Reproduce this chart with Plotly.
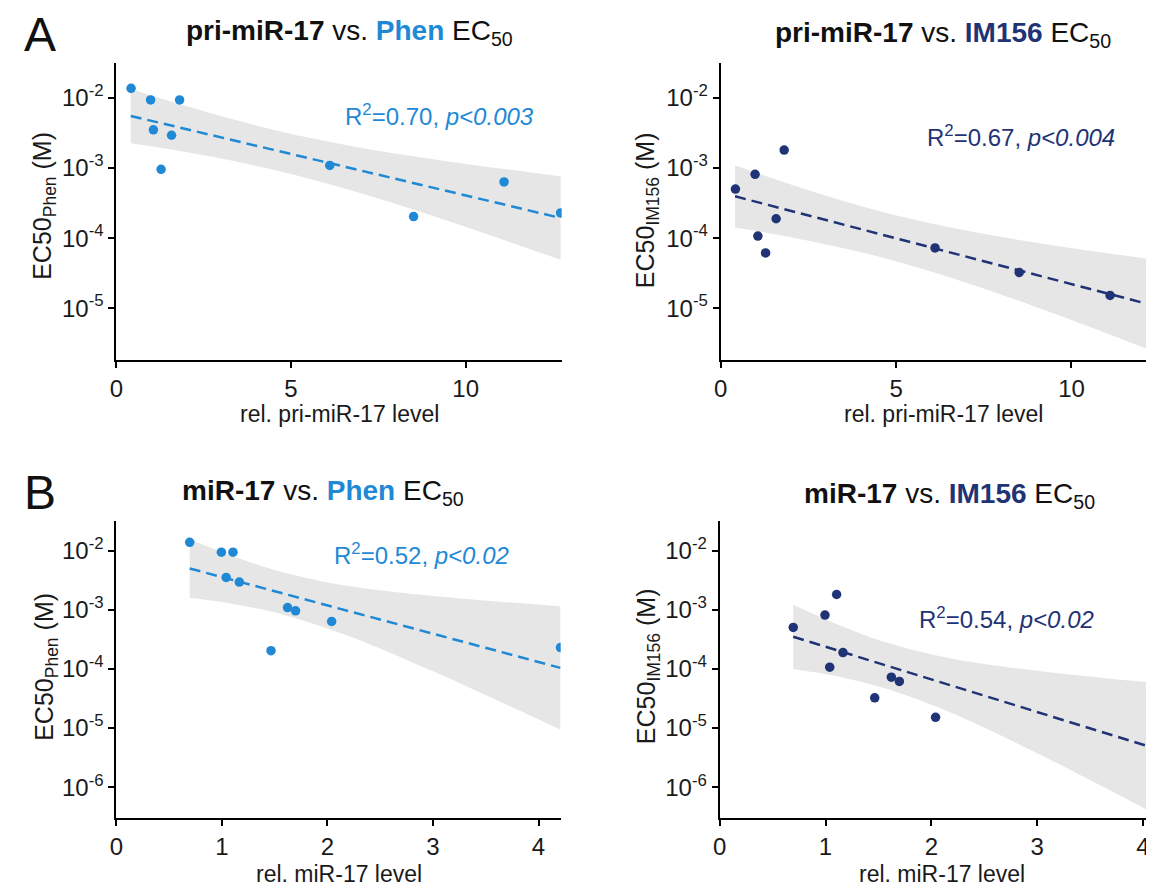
"""Four-panel log-linear correlation plot: miR-17 levels vs EC50 of Phen and IM156."""

import plotly.graph_objects as go

PHEN_BLUE = "#1f89d5"
IM_NAVY = "#1f3375"
BAND_GREY = "#e6e6e6"
FONT = "Liberation Sans, Arial, sans-serif"

# ten cell lines: relative levels and EC50 values (M)
pri_level = [0.42, 0.98, 1.81, 1.06, 1.58, 1.28, 6.11, 8.51, 11.10, 12.72]
mir_level = [0.695, 0.995, 1.105, 1.04, 1.165, 1.698, 1.622, 1.465, 2.04, 4.208]
ec50_phen = [1.377e-2, 9.38e-3, 9.38e-3, 3.52e-3, 2.94e-3, 9.59e-4, 1.09e-3, 2.03e-4, 6.34e-4, 2.29e-4]
ec50_im156 = [5.02e-4, 8.13e-4, 1.81e-3, 1.07e-4, 1.89e-4, 6.14e-5, 7.24e-5, 3.24e-5, 1.52e-5, 9.33e-6]

# regression lines (ends) and 95% bands
pri_fit_x = [0.41, 12.72]
pri_phen_fit = [5.55e-3, 1.94e-4]
pri_im_fit = [3.95e-4, 9.73e-6]
pri_band_x = [0.41, 2.0, 4.55, 7.0, 9.5, 12.72]
pri_phen_hi = [1.36e-2, 7.67e-3, 3.46e-3, 1.95e-3, 1.245e-3, 7.66e-4]
pri_phen_lo = [2.26e-3, 1.69e-3, 9.31e-4, 4.37e-4, 1.75e-4, 4.91e-5]
pri_im_hi = [1.10e-3, 5.81e-4, 2.40e-4, 1.28e-4, 7.87e-5, 4.67e-5]
pri_im_lo = [1.42e-4, 1.03e-4, 5.37e-5, 2.31e-5, 8.36e-6, 2.03e-6]

mir_fit_x = [0.695, 4.208]
mir_phen_fit = [4.99e-3, 1.04e-4]
mir_im_fit = [3.49e-4, 4.03e-6]
mir_band_x = [0.695, 0.9, 1.2, 1.6, 2.2, 3.0, 3.6, 4.208]
mir_phen_hi = [1.56e-2, 1.11e-2, 7.00e-3, 4.18e-3, 2.51e-3, 1.70e-3, 1.38e-3, 1.15e-3]
mir_phen_lo = [1.60e-3, 1.43e-3, 1.17e-3, 8.11e-4, 3.61e-4, 9.12e-5, 2.99e-5, 9.40e-6]
mir_im_hi = [1.21e-3, 8.24e-4, 4.88e-4, 2.72e-4, 1.49e-4, 9.29e-5, 7.11e-5, 5.61e-5]
mir_im_lo = [1.00e-4, 8.75e-5, 6.90e-5, 4.49e-5, 1.78e-5, 3.75e-6, 1.07e-6, 2.89e-7]

# axis ticks
pri_ticks = [0, 5, 10]
mir_ticks = [0, 1, 2, 3, 4]
ec50_ticks_a = [1e-2, 1e-3, 1e-4, 1e-5]
ec50_labels_a = ["10<sup>-2</sup>", "10<sup>-3</sup>", "10<sup>-4</sup>", "10<sup>-5</sup>"]
ec50_ticks_b = [1e-2, 1e-3, 1e-4, 1e-5, 1e-6]
ec50_labels_b = ec50_labels_a + ["10<sup>-6</sup>"]

W, H = 1154, 888


def px_x(v):
    return v / W


def px_y(v):
    return 1 - v / H


panels = [
    dict(ax="", x=pri_level, y=ec50_phen, fx=pri_fit_x, fy=pri_phen_fit, bx=pri_band_x,
         hi=pri_phen_hi, lo=pri_phen_lo, col=PHEN_BLUE, dom=(102, 550), vdom=(55, 352),
         xr=[0, 12.75], yr=[-5.74, -1.5], yt=ec50_ticks_a, yl=ec50_labels_a, xt=pri_ticks,
         drug="Phen", gene="pri-miR-17", xtitle="rel. pri-miR-17 level",
         stat="R<sup>2</sup>=0.70, <i>p&lt;0.003</i>", sx=427, sy=107,
         tx=337, ty=25, yx=29, yy=198, xtx=326, xty=406),
    dict(ax="2", x=pri_level, y=ec50_im156, fx=pri_fit_x, fy=pri_im_fit, bx=pri_band_x,
         hi=pri_im_hi, lo=pri_im_lo, col=IM_NAVY, dom=(710, 1154), vdom=(55, 352),
         xr=[0, 12.58], yr=[-5.74, -1.5], yt=ec50_ticks_a, yl=ec50_labels_a, xt=pri_ticks,
         drug="IM156", gene="pri-miR-17", xtitle="rel. pri-miR-17 level",
         stat="R<sup>2</sup>=0.67, <i>p&lt;0.004</i>", sx=1012, sy=128,
         tx=934, ty=27, yx=636, yy=202, xtx=934, xty=406),
    dict(ax="3", x=mir_level, y=ec50_phen, fx=mir_fit_x, fy=mir_phen_fit, bx=mir_band_x,
         hi=mir_phen_hi, lo=mir_phen_lo, col=PHEN_BLUE, dom=(102, 549), vdom=(513, 810),
         xr=[0, 4.21], yr=[-6.52, -1.5], yt=ec50_ticks_b, yl=ec50_labels_b, xt=mir_ticks,
         drug="Phen", gene="miR-17", xtitle="rel. miR-17 level",
         stat="R<sup>2</sup>=0.52, <i>p&lt;0.02</i>", sx=409, sy=546,
         tx=310, ty=484, yx=31, yy=659, xtx=326, xty=866),
    dict(ax="4", x=mir_level, y=ec50_im156, fx=mir_fit_x, fy=mir_im_fit, bx=mir_band_x,
         hi=mir_im_hi, lo=mir_im_lo, col=IM_NAVY, dom=(709, 1154), vdom=(513, 810),
         xr=[0, 4.18], yr=[-6.52, -1.5], yt=ec50_ticks_b, yl=ec50_labels_b, xt=mir_ticks,
         drug="IM156", gene="miR-17", xtitle="rel. miR-17 level",
         stat="R<sup>2</sup>=0.54, <i>p&lt;0.02</i>", sx=998, sy=610,
         tx=940, ty=487, yx=637, yy=658, xtx=933, xty=866),
]

fig = go.Figure()
annotations = []
layout = {}


def note(text, x, y, size, color="#111", angle=0):
    annotations.append(dict(
        text=text, x=px_x(x), y=px_y(y), xref="paper", yref="paper",
        xanchor="center", yanchor="middle", showarrow=False, textangle=angle,
        font=dict(size=size, color=color),
    ))


for p in panels:
    xa, ya = "x" + p["ax"], "y" + p["ax"]
    # confidence band
    fig.add_trace(go.Scatter(x=p["bx"], y=p["lo"], mode="lines", line=dict(width=0, shape="spline"),
                             hoverinfo="skip", showlegend=False, xaxis=xa, yaxis=ya))
    fig.add_trace(go.Scatter(x=p["bx"], y=p["hi"], mode="lines", line=dict(width=0, shape="spline"),
                             fill="tonexty", fillcolor=BAND_GREY, hoverinfo="skip",
                             showlegend=False, xaxis=xa, yaxis=ya))
    # regression line
    fig.add_trace(go.Scatter(x=p["fx"], y=p["fy"], mode="lines",
                             line=dict(color=p["col"], width=2.5, dash="11px,6px"),
                             showlegend=False, xaxis=xa, yaxis=ya))
    # cell lines
    fig.add_trace(go.Scatter(x=p["x"], y=p["y"], mode="markers",
                             marker=dict(color=p["col"], size=9.5),
                             showlegend=False, xaxis=xa, yaxis=ya))

    x0, x1 = p["dom"]
    top, bot = p["vdom"]
    layout["xaxis" + p["ax"]] = dict(
        domain=[px_x(x0), px_x(x1)], range=p["xr"], anchor=ya,
        tickvals=p["xt"], showline=True, linecolor="black", linewidth=2,
        ticks="outside", ticklen=6, tickwidth=2, tickcolor="black",
        showgrid=False, zeroline=False, tickfont=dict(size=24, color="#1a1a1a"),
    )
    layout["yaxis" + p["ax"]] = dict(
        domain=[px_y(bot), px_y(top)], type="log", range=p["yr"], anchor=xa,
        tickvals=p["yt"], ticktext=p["yl"],
        showline=True, linecolor="black", linewidth=2,
        ticks="outside", ticklen=6, tickwidth=2, tickcolor="black",
        showgrid=False, zeroline=False, tickfont=dict(size=24, color="#1a1a1a"),
    )
    note(p["xtitle"], p["xtx"], p["xty"], 23, "#1a1a1a")
    note("EC50<sub>%s</sub> (M)" % p["drug"], p["yx"], p["yy"], 25, "#1a1a1a", -90)
    note("<b>%s</b> vs. <b><span style='color:%s'>%s</span></b> EC<sub>50</sub>"
         % (p["gene"], p["col"], p["drug"]), p["tx"], p["ty"], 28)
    note(p["stat"], p["sx"], p["sy"], 24, p["col"])

note("A", 25, 26, 48)
note("B", 25, 484, 48)

fig.update_layout(
    width=W, height=H,
    margin=dict(l=0, r=0, t=0, b=0),
    plot_bgcolor="white", paper_bgcolor="white",
    font=dict(family=FONT),
    annotations=annotations,
    **layout,
)

fig.write_html("out.html")
